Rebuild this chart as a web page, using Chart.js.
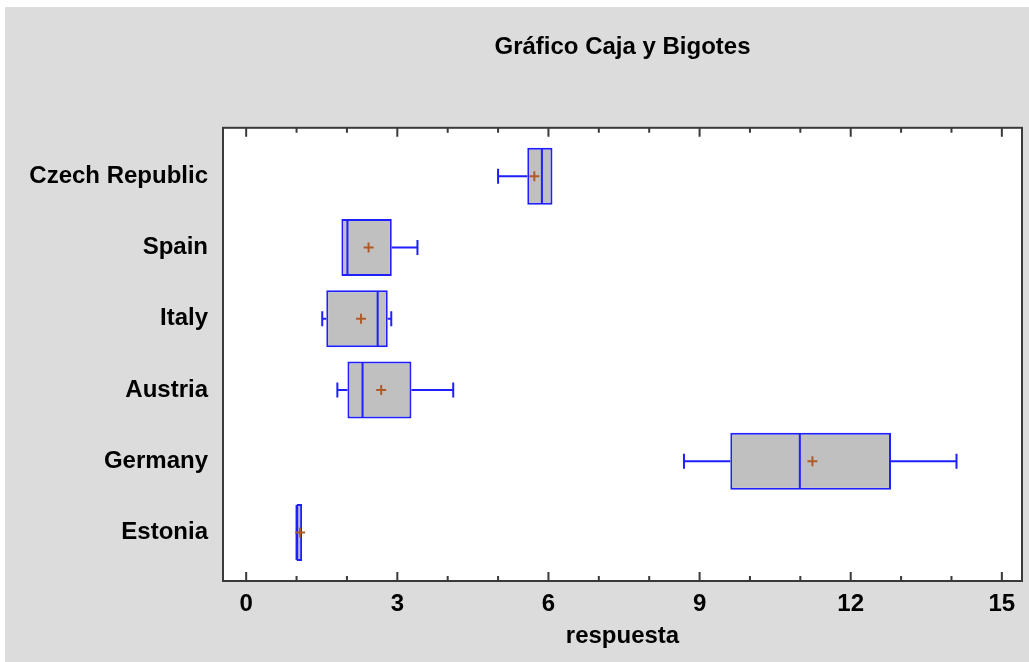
<!DOCTYPE html>
<html>
<head>
<meta charset="utf-8">
<title>Gráfico Caja y Bigotes</title>
<script src="https://cdn.jsdelivr.net/npm/chart.js@4.4.0/dist/chart.umd.min.js"></script>
<style>
  html, body { margin: 0; padding: 0; background: #fff; }
  #wrap { position: absolute; left: 5px; top: 7px; width: 1024px; height: 655px; background: #dcdcdc; }
</style>
</head>
<body>
<div id="wrap"><canvas id="chart"></canvas></div>
<script>
// box plot data, one entry per country (top to bottom)
const countries = ['Czech Republic', 'Spain', 'Italy', 'Austria', 'Germany', 'Estonia'];
const minVals    = [5.00, 1.89, 1.51, 1.81, 8.69, 1.00];
const q1Vals     = [5.58, 1.89, 1.59, 2.01, 9.61, 1.00];
const medianVals = [5.87, 2.01, 2.61, 2.31, 10.99, 1.00];
const q3Vals     = [6.08, 2.89, 2.81, 3.28, 12.80, 1.11];
const maxVals    = [6.08, 3.40, 2.88, 4.11, 14.10, 1.11];
const meanVals   = [5.72, 2.43, 2.28, 2.68, 11.24, 1.07];
const xTicks     = [0, 3, 6, 9, 12, 15];

const BLUE = '#1f1fff';
const FRAME = '#3a3a3a';

Chart.defaults.font.family = "'Liberation Sans', Arial, sans-serif";
Chart.defaults.color = '#000';

// whiskers, medians, frame and inner tick marks
const boxPlot = {
  id: 'boxPlot',
  beforeDraw(chart) {
    const {ctx, chartArea: a} = chart;
    ctx.save();
    ctx.fillStyle = '#fff';
    ctx.fillRect(a.left, a.top, a.right - a.left, a.bottom - a.top);
    ctx.restore();
  },
  afterDatasetDraw(chart, args) {
    if (args.index !== 0) return;
    const {ctx, scales: {x}} = chart;
    const bars = chart.getDatasetMeta(0).data;
    ctx.save();
    ctx.strokeStyle = BLUE;
    ctx.lineWidth = 2;
    bars.forEach((bar, i) => {
      const cy = bar.y;
      const h = bar.height / 2;
      const cap = 7.5;
      const xMin = x.getPixelForValue(minVals[i]);
      const xQ1 = x.getPixelForValue(q1Vals[i]);
      const xMed = x.getPixelForValue(medianVals[i]);
      const xQ3 = x.getPixelForValue(q3Vals[i]);
      const xMax = x.getPixelForValue(maxVals[i]);
      ctx.beginPath();
      if (xMin < xQ1 - 0.5) {
        ctx.moveTo(xMin, cy); ctx.lineTo(xQ1, cy);
        ctx.moveTo(xMin, cy - cap); ctx.lineTo(xMin, cy + cap);
      }
      if (xMax > xQ3 + 0.5) {
        ctx.moveTo(xQ3, cy); ctx.lineTo(xMax, cy);
        ctx.moveTo(xMax, cy - cap); ctx.lineTo(xMax, cy + cap);
      }
      ctx.moveTo(xMed, cy - h + 1); ctx.lineTo(xMed, cy + h - 1);
      ctx.stroke();
    });
    ctx.restore();
  },
  afterDraw(chart) {
    const {ctx, chartArea: a, scales: {x}} = chart;
    ctx.save();
    ctx.strokeStyle = FRAME;
    ctx.lineWidth = 2;
    ctx.strokeRect(a.left, a.top, a.right - a.left, a.bottom - a.top);
    ctx.beginPath();
    for (let v = xTicks[0]; v <= xTicks[xTicks.length - 1]; v++) {
      const px = x.getPixelForValue(v);
      const len = xTicks.includes(v) ? 9 : 5;
      ctx.moveTo(px, a.bottom); ctx.lineTo(px, a.bottom - len);
      ctx.moveTo(px, a.top); ctx.lineTo(px, a.top + len);
    }
    ctx.stroke();
    ctx.restore();
  }
};

const ctx = document.getElementById('chart');
const chart = new Chart(ctx, {
  type: 'bar',
  data: {
    datasets: [{
      label: 'caja',
      order: 2,
      data: countries.map((c, i) => ({x: [q1Vals[i], q3Vals[i]], y: i + 1})),
      backgroundColor: '#c0c0c0',
      borderColor: BLUE,
      borderWidth: 2,
      borderSkipped: false,
      barPercentage: 0.8,
      categoryPercentage: 1.0
    }, {
      type: 'line',
      label: 'media',
      order: 1,
      data: countries.map((c, i) => ({x: meanVals[i], y: i + 1})),
      showLine: false,
      pointStyle: 'cross',
      pointRadius: 5,
      pointBorderWidth: 2,
      pointBorderColor: '#b05a28',
      pointBackgroundColor: '#b05a28'
    }]
  },
  options: {
    indexAxis: 'y',
    responsive: true,
    maintainAspectRatio: false,
    animation: false,
    layout: { padding: { left: 0, right: 7, top: 0, bottom: 0 } },
    plugins: {
      legend: { display: false },
      tooltip: { enabled: false },
      title: {
        display: true,
        text: 'Gráfico Caja y Bigotes',
        fullSize: false,
        font: { size: 24, weight: 'bold' },
        color: '#000',
        padding: { top: 26, bottom: 66 }
      }
    },
    scales: {
      x: {
        type: 'linear',
        min: -0.46,
        max: 15.4,
        afterBuildTicks: s => { s.ticks = xTicks.map(v => ({value: v})); },
        afterFit: s => { s.height = 81; },
        ticks: { font: { size: 24, weight: 'bold' }, color: '#000', padding: 9, maxRotation: 0, autoSkip: false },
        grid: { display: false, drawTicks: false },
        border: { display: false },
        title: {
          display: true,
          text: 'respuesta',
          font: { size: 24, weight: 'bold' },
          color: '#000',
          padding: { top: 0, bottom: 11 }
        }
      },
      y: {
        type: 'linear',
        reverse: true,
        offset: false,
        min: 0.32,
        max: 6.68,
        afterBuildTicks: s => { s.ticks = countries.map((c, i) => ({value: i + 1})); },
        afterFit: s => { s.width = 218; },
        ticks: {
          font: { size: 24, weight: 'bold' },
          color: '#000',
          padding: 15,
          autoSkip: false,
          callback: v => countries[v - 1]
        },
        grid: { display: false, drawTicks: false, offset: false },
        border: { display: false }
      }
    }
  },
  plugins: [boxPlot]
});
</script>
</body>
</html>
